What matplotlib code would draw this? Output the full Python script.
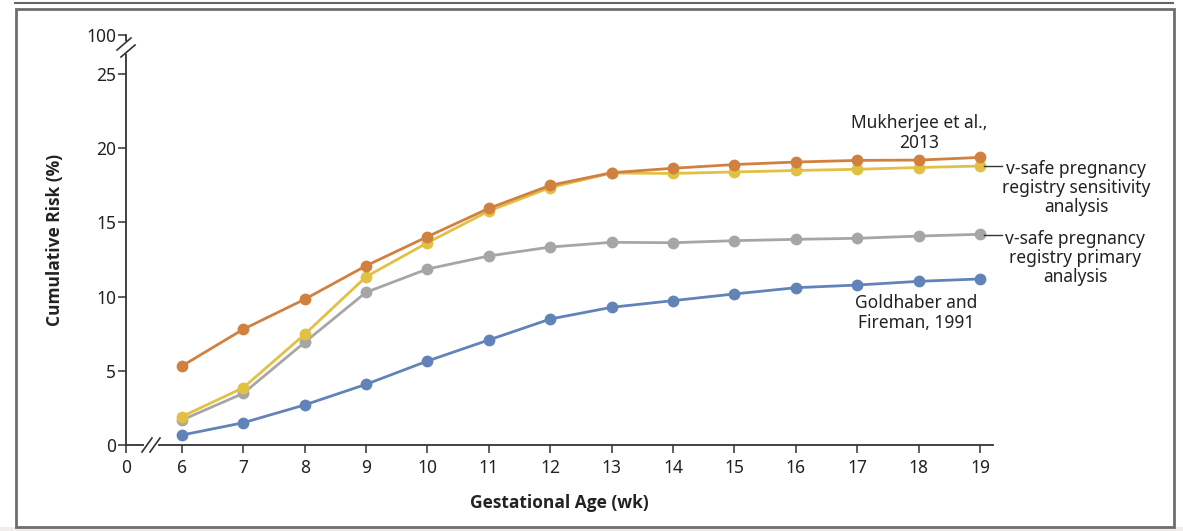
import matplotlib
matplotlib.use("Agg")
import matplotlib.pyplot as plt
from matplotlib.lines import Line2D
from matplotlib.patches import Rectangle

plt.rcParams['font.family'] = ['Noto Sans', 'DejaVu Sans']

weeks = [6, 7, 8, 9, 10, 11, 12, 13, 14, 15, 16, 17, 18, 19]
mukherjee = [5.32, 7.8, 9.82, 12.08, 14.04, 15.95, 17.5, 18.35, 18.65, 18.9, 19.07, 19.18, 19.2, 19.38]
vsafe_sensitivity = [1.91, 3.86, 7.46, 11.34, 13.63, 15.77, 17.35, 18.33, 18.3, 18.4, 18.5, 18.58, 18.7, 18.8]
vsafe_primary = [1.68, 3.48, 6.92, 10.29, 11.86, 12.74, 13.34, 13.66, 13.63, 13.77, 13.86, 13.93, 14.08, 14.2]
goldhaber = [0.67, 1.5, 2.7, 4.09, 5.66, 7.08, 8.49, 9.28, 9.73, 10.18, 10.6, 10.78, 11.03, 11.19]

x_tick_labels = ['0'] + [str(w) for w in weeks]
y_tick_labels = ['0', '5', '10', '15', '20', '25', '100']
y_tick_values = [0, 5, 10, 15, 20, 25]

W, H = 1183, 531
fig = plt.figure(figsize=(W / 100, H / 100), dpi=100)

def px(x, y):
    return x / W, 1 - y / H

# frame decorations
fig.patches.append(Rectangle(px(0, 531), 1, 4 / H, transform=fig.transFigure,
                             facecolor='#efedeb', edgecolor='none', zorder=0))
fig.lines.append(Line2D([15 / W, 1173 / W], [1 - 2.5 / H, 1 - 2.5 / H], transform=fig.transFigure,
                        color='#666666', lw=1.5))
x0, y0 = px(16, 527)
x1, y1 = px(1174, 9)
fig.patches.append(Rectangle((x0, y0), x1 - x0, y1 - y0, transform=fig.transFigure,
                             facecolor='none', edgecolor='#6e6e6e', lw=2.0))

left, right = 126 / W, 993 / W
bottom, top = 1 - 445 / H, 1 - 35 / H
ax = fig.add_axes([left, bottom, right - left, top - bottom])

xzero_pos = 5.09
ytop = 27.63
ax.set_xlim(xzero_pos, 19.21)
ax.set_ylim(0, ytop)

for s in ['top', 'right']:
    ax.spines[s].set_visible(False)
for s in ['left', 'bottom']:
    ax.spines[s].set_color('#333333')
    ax.spines[s].set_linewidth(1.3)

ax.set_xticks([xzero_pos] + weeks)
ax.set_xticklabels(x_tick_labels)
ax.set_yticks(y_tick_values + [ytop])
ax.set_yticklabels(y_tick_labels)
ax.tick_params(axis='both', direction='out', length=6, width=1.1, color='#333333',
               labelsize=12.5, labelcolor='#222222', pad=2)
ax.tick_params(axis='y', pad=1)
ax.tick_params(axis='x', pad=4)

series = [
    (goldhaber, '#6283b8', 3),
    (vsafe_primary, '#a6a6a6', 4),
    (vsafe_sensitivity, '#e2c043', 5),
    (mukherjee, '#d1813f', 6),
]
for vals, col, z in series:
    ax.plot(weeks, vals, color=col, lw=2.0, marker='o', markersize=8.5,
            markeredgewidth=0, zorder=z, clip_on=False)

bold_family = ['Open Sans', 'Lato', 'DejaVu Sans']
ax.set_ylabel('Cumulative Risk (%)', fontsize=12.5, fontweight='bold', color='#222222',
              labelpad=16, family=bold_family)
ax.set_xlabel('Gestational Age (wk)', fontsize=12.5, fontweight='bold', color='#222222',
              labelpad=12, family=bold_family)

# axis break marks
def fig_slash(cx, cy, dx, dy):
    fig.lines.append(Line2D([ (cx - dx) / W, (cx + dx) / W ],
                            [1 - (cy + dy) / H, 1 - (cy - dy) / H],
                            transform=fig.transFigure, color='#333333', lw=1.2, zorder=10))

# y-axis break
fig.lines.append(Line2D([126 / W, 126 / W], [1 - 44 / H, 1 - 51 / H], transform=fig.transFigure,
                        color='white', lw=4, zorder=9))
fig_slash(124, 44, 7, 6)
fig_slash(128, 51, 7, 6)
# x-axis break
fig.lines.append(Line2D([146 / W, 156 / W], [1 - 445 / H, 1 - 445 / H], transform=fig.transFigure,
                        color='white', lw=3, zorder=9))
fig_slash(147, 445, 5, 7)
fig_slash(155, 445, 5, 7)

# annotations
tc = '#222222'
fs = 12.5
fig.text(919 / W, 1 - 133 / H, 'Mukherjee et al.,\n2013', ha='center', va='center', fontsize=fs,
         color=tc, linespacing=1.1)
fig.text(1076 / W, 1 - 188 / H, 'v-safe pregnancy\nregistry sensitivity\nanalysis', ha='center',
         va='center', fontsize=fs, color=tc, linespacing=1.1)
fig.text(1075 / W, 1 - 258 / H, 'v-safe pregnancy\nregistry primary\nanalysis', ha='center',
         va='center', fontsize=fs, color=tc, linespacing=1.1)
fig.text(916 / W, 1 - 313 / H, 'Goldhaber and\nFireman, 1991', ha='center', va='center', fontsize=fs,
         color=tc, linespacing=1.1)
fig.lines.append(Line2D([984 / W, 1002 / W], [1 - 166 / H, 1 - 166 / H], transform=fig.transFigure,
                        color='#333333', lw=1.0))
fig.lines.append(Line2D([984 / W, 1002 / W], [1 - 235 / H, 1 - 235 / H], transform=fig.transFigure,
                        color='#333333', lw=1.0))

fig.savefig('out.png', dpi=100)
